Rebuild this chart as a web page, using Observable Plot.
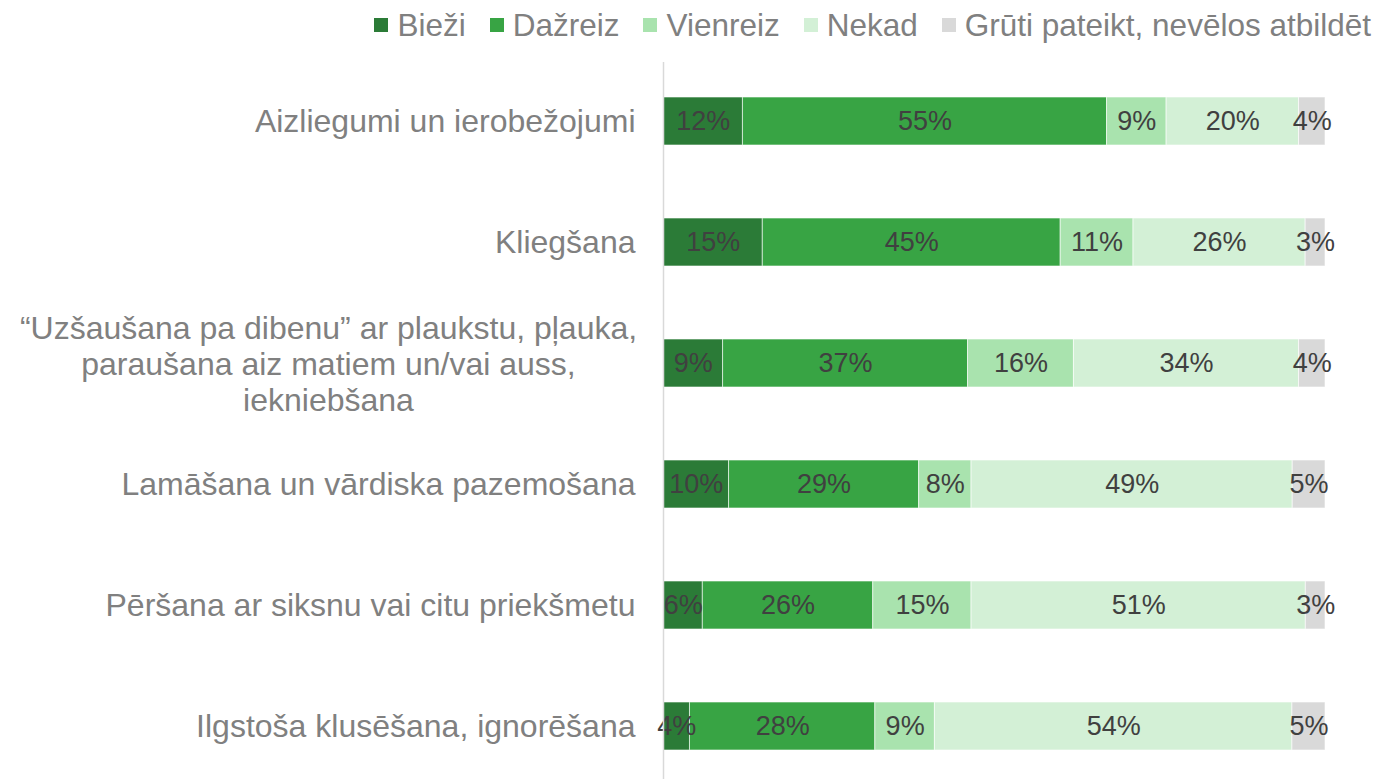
<!DOCTYPE html>
<html>
<head>
<meta charset="utf-8">
<script src="https://cdn.jsdelivr.net/npm/d3@7"></script>
<script src="https://cdn.jsdelivr.net/npm/@observablehq/plot@0.6"></script>
<style>
  html, body { margin: 0; padding: 0; background: #fff; }
  #wrap { position: relative; width: 1390px; height: 779px; font-family: "Liberation Sans", Arial, sans-serif; }
  #legend { position: absolute; top: 7px; right: 19px; display: flex; align-items: center; gap: 24px; font-size: 31.5px; line-height: 36px; color: #808080; white-space: nowrap; }
  #legend .item { display: flex; align-items: center; gap: 9px; }
  #legend .sw { width: 14px; height: 14px; display: inline-block; }
  #chart { position: absolute; left: 0; top: 0; }
</style>
</head>
<body>
<div id="wrap">
  <div id="chart"></div>
  <div id="legend"></div>
</div>
<script>
const categories = [
  "Aizliegumi un ierobežojumi",
  "Kliegšana",
  "“Uzšaušana pa dibenu” ar plaukstu, pļauka,\nparaušana aiz matiem un/vai auss,\niekniebšana",
  "Lamāšana un vārdiska pazemošana",
  "Pēršana ar siksnu vai citu priekšmetu",
  "Ilgstoša klusēšana, ignorēšana"
];
const series = ["Bieži", "Dažreiz", "Vienreiz", "Nekad", "Grūti pateikt, nevēlos atbildēt"];
const colors = ["#2b7b37", "#38a444", "#a9e3ae", "#d3f0d6", "#d9d9d9"];

const biezi    = [12, 15, 9, 10, 6, 4];
const dazreiz  = [55, 45, 37, 29, 26, 28];
const vienreiz = [9, 11, 16, 8, 15, 9];
const nekad    = [20, 26, 34, 49, 51, 54];
const gruti    = [4, 3, 4, 5, 3, 5];

const seriesValues = [biezi, dazreiz, vienreiz, nekad, gruti];
const data = [];
categories.forEach((c, i) => {
  series.forEach((s, j) => data.push({category: c, series: s, value: seriesValues[j][i]}));
});

// legend
const legend = document.getElementById("legend");
series.forEach((s, j) => {
  const item = document.createElement("span");
  item.className = "item";
  item.innerHTML = `<span class="sw" style="background:${colors[j]}"></span><span>${s}</span>`;
  legend.appendChild(item);
});

const singleLine = categories.filter(c => !c.includes("\n"));
const multiLine = categories.filter(c => c.includes("\n"));

const chart = Plot.plot({
  width: 1390,
  height: 779,
  marginLeft: 663,
  marginRight: 65,
  marginTop: 62,
  marginBottom: 0,
  style: {fontFamily: "'Liberation Sans', Arial, sans-serif", background: "transparent"},
  x: {domain: [0, 1], axis: null},
  y: {domain: categories, range: [60.5, 786.5], paddingInner: 0.6, paddingOuter: 0.3, axis: null},
  color: {domain: series, range: colors},
  marks: [
    Plot.barX(data, Plot.stackX({
      x: "value", y: "category", fill: "series", order: series, offset: "normalize",
      stroke: "white", strokeWidth: 1, strokeOpacity: 0.6
    })),
    Plot.text(data, Plot.stackX({
      x: "value", y: "category", z: "series", order: series, offset: "normalize",
      text: d => d.value + "%", fill: "#404040", fontSize: 27
    })),
    Plot.ruleX([0], {stroke: "#d9d9d9", strokeWidth: 1.5}),
    Plot.text(singleLine, {
      x: () => 0, y: d => d, text: d => d, textAnchor: "end", dx: -28,
      fill: "#808080", fontSize: 32
    }),
    Plot.text(multiLine, {
      x: () => 0, y: d => d, text: d => d, textAnchor: "middle", dx: -335,
      lineHeight: 1.13, fill: "#808080", fontSize: 32
    })
  ]
});
document.getElementById("chart").appendChild(chart);
</script>
</body>
</html>
